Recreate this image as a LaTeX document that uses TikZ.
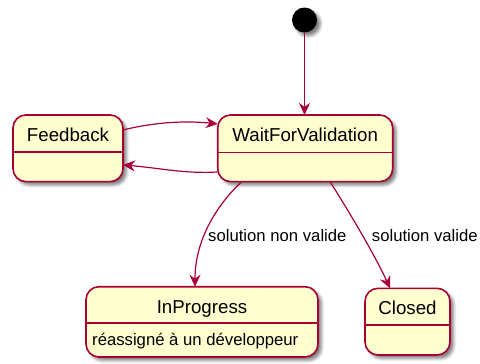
\documentclass[tikz,border=0pt]{standalone}
\usepackage{fontspec}
\setmainfont{Liberation Sans}
\usetikzlibrary{arrows.meta,shadows.blur,calc}
\definecolor{stfill}{HTML}{FEFECE}
\definecolor{stline}{HTML}{A80036}
\begin{document}
\begin{tikzpicture}[x=1bp,y=-1bp,
  shade/.style={blur shadow={shadow xshift=3.5bp, shadow yshift=-3.5bp, shadow blur radius=3bp, shadow opacity=50}},
  state/.style={draw=stline, fill=stfill, line width=1.6bp, rounded corners=13bp,
    inner sep=0pt, outer sep=0pt, shade},
  divider/.style={draw=stline, line width=1.6bp},
  title/.style={font=\fontsize{18.7bp}{22bp}\selectfont, inner sep=0pt, anchor=base},
  desc/.style={font=\fontsize{16.7bp}{20bp}\selectfont, inner sep=0pt, anchor=base west},
  lbl/.style={font=\fontsize{16.7bp}{20bp}\selectfont, inner sep=0pt, anchor=base west},
  edge/.style={draw=stline, line width=1.2bp, -{Stealth[length=12bp,width=11bp,inset=4bp]}},
]
\useasboundingbox (0,0) rectangle (480,363);

% initial pseudo-state
\node[circle, fill=black, minimum size=25bp, inner sep=0pt, outer sep=0pt, shade] (init) at (304.5,20) {};

% states
\node[state, minimum width=175bp, minimum height=66.7bp] (wfv) at (305.2,148.3) {};
\node[state, minimum width=110bp, minimum height=66.7bp] (fb) at (68,148.3) {};
\node[state, minimum width=232bp, minimum height=70.3bp] (ip) at (202,321.85) {};
\node[state, minimum width=85bp, minimum height=66.7bp] (cl) at (407.5,321.65) {};

% compartment lines
\draw[divider] ($(wfv.north west)+(0,37.5)$) -- ($(wfv.north east)+(0,37.5)$);
\draw[divider] ($(fb.north west)+(0,37)$) -- ($(fb.north east)+(0,37)$);
\draw[divider] ($(ip.north west)+(0,36)$) -- ($(ip.north east)+(0,36)$);
\draw[divider] ($(cl.north west)+(0,36.7)$) -- ($(cl.north east)+(0,36.7)$);

% state names
\node[title] (twfv) at ($(wfv.north)+(0,26.5)$) {WaitForValidation};
\node[title] (tfb) at ($(fb.north)+(0,26.3)$) {Feedback};
\node[title] (tip) at ($(ip.north)+(0,26.3)$) {InProgress};
\node[title] (tcl) at ($(cl.north)+(0,26.5)$) {Closed};
\node[desc] (dip) at ($(ip.north west)+(6,58.3)$) {réassigné à un développeur};

% transitions
\draw[edge] (init) -- (init |- wfv.north);
\draw[edge] ($(fb.north east)+(0,15)$) .. controls (160,121) and (190,121) .. ($(wfv.north west)+(0,9)$);
\draw[edge] ($(wfv.north west)+(0,57)$) .. controls (185,174) and (160,168) .. ($(fb.north east)+(0,50)$);
\draw[edge] ($(wfv.south west)+(24,0)$) .. controls (222,200) and (195,235) .. ($(ip.north west)+(109,0)$);
\draw[edge] ($(wfv.south west)+(112.3,0)$) .. controls (345,205) and (375,255) .. ($(cl.north west)+(25,0)$);

% transition labels
\node[lbl] (lnv) at (208,241.7) {solution non valide};
\node[lbl] (lv) at (371.7,241.7) {solution valide};
\end{tikzpicture}
\end{document}
